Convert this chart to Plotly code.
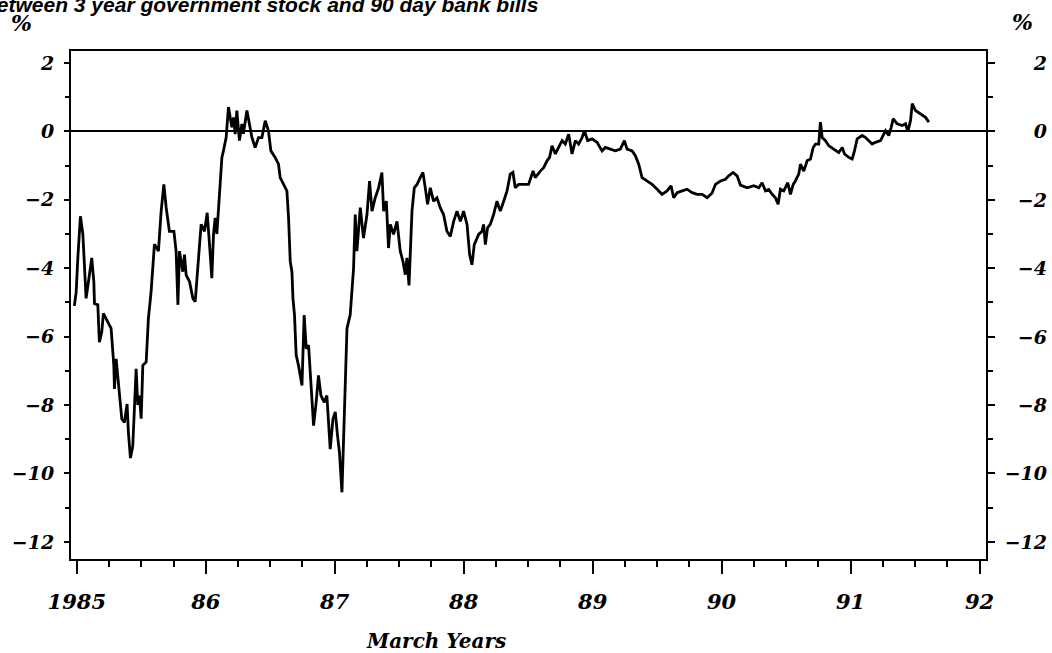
import plotly.graph_objects as go

# Decimal "March years" (1985.0 = March 1985) and spread in percentage points
years = [
    1984.981, 1984.995, 1985.008, 1985.028, 1985.047, 1985.059, 1985.072, 1985.098, 1985.116, 1985.132,
    1985.137, 1985.163, 1985.175, 1985.194, 1985.206, 1985.240, 1985.266, 1985.287, 1985.292, 1985.305,
    1985.330, 1985.349, 1985.369, 1985.390, 1985.400, 1985.416, 1985.434, 1985.447, 1985.460, 1985.473,
    1985.486, 1985.499, 1985.512, 1985.538, 1985.555, 1985.576, 1985.602, 1985.633, 1985.654, 1985.675,
    1985.693, 1985.718, 1985.753, 1985.770, 1985.784, 1985.796, 1985.822, 1985.835, 1985.848, 1985.874,
    1985.900, 1985.918, 1985.939, 1985.964, 1985.990, 1986.011, 1986.029, 1986.047, 1986.060, 1986.073,
    1986.086, 1986.099, 1986.112, 1986.125, 1986.137, 1986.158, 1986.176, 1986.202, 1986.215, 1986.228,
    1986.241, 1986.261, 1986.280, 1986.292, 1986.319, 1986.339, 1986.358, 1986.383, 1986.409, 1986.435,
    1986.461, 1986.486, 1986.505, 1986.538, 1986.564, 1986.577, 1986.603, 1986.629, 1986.642, 1986.655,
    1986.668, 1986.676, 1986.688, 1986.701, 1986.719, 1986.746, 1986.763, 1986.779, 1986.797, 1986.810,
    1986.836, 1986.856, 1986.874, 1986.893, 1986.919, 1986.939, 1986.965, 1986.986, 1987.004, 1987.022,
    1987.037, 1987.056, 1987.068, 1987.081, 1987.095, 1987.120, 1987.146, 1987.159, 1987.172, 1987.198,
    1987.223, 1987.250, 1987.270, 1987.289, 1987.314, 1987.340, 1987.366, 1987.379, 1987.400, 1987.417,
    1987.431, 1987.456, 1987.483, 1987.508, 1987.529, 1987.547, 1987.560, 1987.576, 1987.586, 1987.599,
    1987.617, 1987.638, 1987.663, 1987.684, 1987.702, 1987.720, 1987.741, 1987.766, 1987.793, 1987.818,
    1987.844, 1987.870, 1987.896, 1987.922, 1987.948, 1987.974, 1987.999, 1988.026, 1988.046, 1988.064,
    1988.082, 1988.116, 1988.142, 1988.154, 1988.168, 1988.185, 1988.206, 1988.232, 1988.258, 1988.284,
    1988.310, 1988.336, 1988.361, 1988.382, 1988.400, 1988.426, 1988.465, 1988.503, 1988.538, 1988.555,
    1988.594, 1988.620, 1988.646, 1988.666, 1988.685, 1988.711, 1988.736, 1988.763, 1988.788, 1988.814,
    1988.840, 1988.866, 1988.891, 1988.918, 1988.936, 1988.961, 1988.995, 1989.034, 1989.073, 1989.098,
    1989.137, 1989.176, 1989.215, 1989.246, 1989.267, 1989.306, 1989.331, 1989.357, 1989.383, 1989.422,
    1989.461, 1989.500, 1989.538, 1989.577, 1989.608, 1989.628, 1989.655, 1989.694, 1989.732, 1989.771,
    1989.810, 1989.849, 1989.888, 1989.926, 1989.952, 1989.991, 1990.030, 1990.055, 1990.089, 1990.120,
    1990.146, 1990.198, 1990.249, 1990.288, 1990.314, 1990.340, 1990.365, 1990.392, 1990.417, 1990.438,
    1990.456, 1990.482, 1990.513, 1990.534, 1990.555, 1990.572, 1990.598, 1990.611, 1990.637, 1990.663,
    1990.689, 1990.710, 1990.728, 1990.753, 1990.766, 1990.780, 1990.805, 1990.831, 1990.870, 1990.908,
    1990.935, 1990.953, 1990.986, 1991.012, 1991.030, 1991.051, 1991.090, 1991.116, 1991.141, 1991.167,
    1991.193, 1991.232, 1991.271, 1991.296, 1991.315, 1991.330, 1991.361, 1991.400, 1991.426, 1991.444,
    1991.465, 1991.478, 1991.503, 1991.542, 1991.581, 1991.607,
]
spread = [
    -5.10, -4.70, -3.70, -2.48, -3.00, -3.90, -4.88, -4.19, -3.70, -4.39,
    -5.03, -5.07, -6.16, -5.86, -5.32, -5.57, -5.76, -6.84, -7.53, -6.65,
    -7.72, -8.41, -8.51, -7.97, -8.80, -9.55, -9.20, -7.80, -6.94, -8.00,
    -7.72, -8.40, -6.84, -6.74, -5.47, -4.69, -3.30, -3.50, -2.33, -1.55,
    -2.23, -2.92, -2.92, -3.50, -5.07, -3.50, -4.10, -3.60, -4.20, -4.39,
    -4.88, -4.98, -3.90, -2.72, -2.92, -2.38, -3.30, -4.29, -3.00, -2.53,
    -3.00, -2.13, -1.25, -0.76, -0.57, -0.18, 0.71, 0.12, 0.41, -0.08,
    0.61, -0.27, 0.22, -0.07, 0.61, 0.22, -0.18, -0.47, -0.18, -0.18,
    0.31, 0.02, -0.57, -0.76, -0.96, -1.35, -1.55, -1.74, -2.53, -3.80,
    -4.10, -4.88, -5.36, -6.54, -6.84, -7.43, -5.37, -6.35, -6.25, -6.94,
    -8.60, -7.92, -7.13, -7.72, -7.92, -7.72, -9.29, -8.41, -8.20, -8.90,
    -9.40, -10.55, -8.90, -7.33, -5.76, -5.36, -4.00, -2.43, -3.50, -2.23,
    -3.12, -2.43, -1.45, -2.33, -1.94, -1.65, -1.20, -2.33, -2.04, -3.41,
    -2.72, -3.01, -2.63, -3.50, -3.80, -4.19, -3.70, -4.50, -3.41, -2.33,
    -1.65, -1.55, -1.35, -1.20, -1.65, -2.13, -1.65, -2.04, -1.94, -2.23,
    -2.43, -2.92, -3.07, -2.63, -2.33, -2.63, -2.33, -2.72, -3.60, -3.90,
    -3.31, -3.01, -2.92, -2.72, -3.31, -2.82, -2.72, -2.43, -2.04, -2.33,
    -2.04, -1.74, -1.25, -1.20, -1.65, -1.55, -1.55, -1.55, -1.16, -1.35,
    -1.16, -1.06, -0.86, -0.76, -0.42, -0.66, -0.47, -0.27, -0.37, -0.08,
    -0.66, -0.27, -0.37, -0.18, 0.02, -0.27, -0.22, -0.32, -0.57, -0.47,
    -0.52, -0.57, -0.52, -0.27, -0.52, -0.57, -0.71, -0.96, -1.35, -1.45,
    -1.55, -1.69, -1.84, -1.74, -1.59, -1.94, -1.79, -1.74, -1.69, -1.79,
    -1.84, -1.84, -1.94, -1.80, -1.55, -1.45, -1.40, -1.30, -1.20, -1.30,
    -1.57, -1.65, -1.59, -1.65, -1.50, -1.74, -1.70, -1.84, -1.94, -2.13,
    -1.69, -1.74, -1.50, -1.84, -1.55, -1.45, -1.25, -0.96, -1.16, -0.86,
    -0.81, -0.47, -0.37, -0.37, 0.27, -0.18, -0.27, -0.42, -0.52, -0.62,
    -0.47, -0.66, -0.76, -0.81, -0.57, -0.22, -0.12, -0.18, -0.27, -0.37,
    -0.32, -0.27, 0.02, -0.12, 0.12, 0.37, 0.22, 0.17, 0.22, 0.00,
    0.32, 0.81, 0.61, 0.51, 0.41, 0.27,
]

x_tick_vals = [1985, 1986, 1987, 1988, 1989, 1990, 1991, 1992]
x_tick_text = ["1985", "86", "87", "88", "89", "90", "91", "92"]
y_tick_vals = [2, 0, -2, -4, -6, -8, -10, -12]
y_tick_text = ["2", "0", "\u22122", "\u22124", "\u22126", "\u22128", "\u221210", "\u221212"]

title_text = "between 3 year government stock and 90 day bank bills"
x_title = "March Years"

X_RANGE = [1984.955, 1992.05]
Y_RANGE = [-12.5, 2.35]

tick_font = dict(family="DejaVu Serif", size=19, color="black", weight="bold", style="italic")
xtick_font = dict(family="DejaVu Serif", size=21, color="black", weight="bold", style="italic")

fig = go.Figure()
fig.add_trace(go.Scatter(x=years, y=spread, mode="lines",
                         line=dict(color="black", width=2.8), showlegend=False,
                         hoverinfo="skip"))
# invisible trace to activate right axis
fig.add_trace(go.Scatter(x=[years[0]], y=[spread[0]], yaxis="y2", mode="lines",
                         line=dict(width=0), showlegend=False, hoverinfo="skip"))

fig.update_layout(
    width=1052, height=653,
    margin=dict(l=71, r=66, t=51, b=94, autoexpand=False),
    paper_bgcolor="white", plot_bgcolor="white",
    xaxis=dict(range=X_RANGE, tickvals=x_tick_vals, ticktext=x_tick_text,
               automargin=False,
               ticks="outside", ticklen=13, tickwidth=2, tickcolor="black",
               showline=True, linecolor="black", linewidth=2, mirror=True,
               showgrid=False, zeroline=False, tickfont=xtick_font,
               ticklabelstandoff=10,
               minor=dict(dtick=0.25, tick0=1985, ticks="outside", ticklen=6,
                          tickwidth=1.5, tickcolor="black", showgrid=False)),
    yaxis=dict(range=Y_RANGE, tickvals=y_tick_vals, ticktext=y_tick_text,
               automargin=False,
               ticks="outside", ticklen=5, tickwidth=1.5, tickcolor="black",
               showline=True, linecolor="black", linewidth=2,
               showgrid=False, zeroline=True, zerolinecolor="black", zerolinewidth=1.6,
               tickfont=tick_font, ticklabelstandoff=6,
               minor=dict(dtick=2, tick0=1, ticks="outside", ticklen=4,
                          tickwidth=1.5, tickcolor="black", showgrid=False)),
    yaxis2=dict(range=Y_RANGE, overlaying="y", side="right", tickvals=y_tick_vals,
                automargin=False,
                showticklabels=False, ticks="outside", ticklen=7, tickwidth=1.5,
                tickcolor="black", showline=True, linecolor="black", linewidth=2,
                showgrid=False, zeroline=False,
                minor=dict(dtick=2, tick0=1, ticks="outside", ticklen=5,
                           tickwidth=1.5, tickcolor="black", showgrid=False)),
)

annotations = []
# right-hand tick labels, right aligned like the original
for v, t in zip(y_tick_vals, y_tick_text):
    annotations.append(dict(x=1.0678, y=v, xref="paper", yref="y", text=t,
                            showarrow=False, xanchor="right", yanchor="middle",
                            width=44, align="right", borderpad=0,
                            font=tick_font))
pct_font = dict(family="DejaVu Serif", size=22, color="black", weight="bold", style="italic")
# percent signs
annotations.append(dict(x=-0.0546, y=1.055, xref="paper", yref="paper", text="%",
                        showarrow=False, xanchor="center", yanchor="middle",
                        font=pct_font))
annotations.append(dict(x=1.0404, y=1.058, xref="paper", yref="paper", text="%",
                        showarrow=False, xanchor="center", yanchor="middle",
                        font=pct_font))
# x-axis title
annotations.append(dict(x=0.399, y=-0.1614, xref="paper", yref="paper", text=x_title,
                        showarrow=False, xanchor="center", yanchor="middle",
                        font=dict(family="DejaVu Serif", size=20, color="black",
                                  weight="bold", style="italic")))
# partially cropped chart title at the top (cut off in the original scan)
annotations.append(dict(x=0.5126, y=1.064, xref="paper", yref="paper", text=title_text,
                        showarrow=False, xanchor="right", yanchor="bottom",
                        font=dict(family="Liberation Sans", size=21, color="black",
                                  weight="bold", style="italic")))
fig.update_layout(annotations=annotations)

# remove the default page margin / scrollbars so the figure fills the window
page_js = ("document.body.style.margin='0';document.body.style.overflow='hidden';"
           "document.documentElement.style.overflow='hidden';")
fig.write_html("out.html", post_script=page_js, config={"displayModeBar": False})
